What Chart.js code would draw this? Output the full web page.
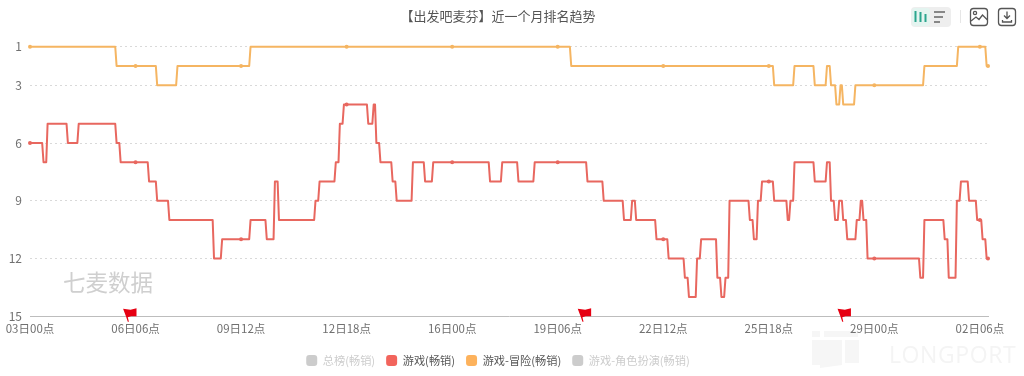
<!DOCTYPE html>
<html>
<head>
<meta charset="utf-8">
<script src="https://cdn.jsdelivr.net/npm/chart.js@4/dist/chart.umd.min.js"></script>
<style>
  html, body { margin: 0; padding: 0; background: #fff; }
  #wrap { position: relative; width: 1024px; height: 376px; overflow: hidden; }
  #rankChart { position: absolute; left: 0; top: 0; }
  .mark { position: absolute; font-family: "Noto Sans CJK SC", sans-serif; white-space: nowrap; }
  #qimai { left: 63px; top: 265px; font-size: 22.5px; line-height: 32px; color: #cfcfcf; }
  #longport { left: 889px; top: 340px; font-family: "Open Sans", sans-serif; font-size: 23px; line-height: 28px; letter-spacing: 0.6px; color: #f4f4f4; }
  svg { position: absolute; left: 0; top: 0; }
</style>
</head>
<body>
<div id="wrap">
  <svg width="1024" height="376">
    <g fill="#f6f6f6">
      <rect x="812" y="331" width="8" height="6"/><rect x="824" y="331" width="34" height="6"/>
      <path d="M812 340h30v25l-22 3v-3h-8z"/><rect x="845" y="340" width="14" height="23"/>
    </g>
  </svg>
  <canvas id="rankChart" width="1024" height="376"></canvas>
  <div class="mark" id="qimai">七麦数据</div>
  <div class="mark" id="longport">LONGPORT</div>
  <svg width="1024" height="376">
    <rect x="911" y="7" width="40" height="20" rx="4" fill="#eeeeee"/>
    <rect x="912" y="8" width="18" height="18" rx="3" fill="#e4f4f0"/>
    <g stroke="#2ba58e" stroke-width="2"><path d="M915.5 11v11M920.5 12v10M925.5 14v8"/></g>
    <g stroke="#666" stroke-width="1.6"><path d="M934 12h11M934 17h9M934 22h6"/></g>
    <path d="M960.5 10v13" stroke="#e6e6e6"/>
    <g fill="none" stroke="#555" stroke-width="1.3">
      <rect x="970.5" y="8.5" width="17" height="17" rx="3"/>
      <circle cx="975" cy="13" r="1.6"/>
      <path d="M971 21l5-4 3 2.5 3.5-4.5 5 5"/>
      <rect x="998.5" y="8.5" width="17" height="17" rx="3"/>
      <path d="M1007 11.5v7M1004 15.5l3 3 3-3M1002.5 20v2h9v-2"/>
    </g>
  </svg>
</div>
<script>
const titleText = '【出发吧麦芬】近一个月排名趋势';
const legendNames = ['总榜(畅销)', '游戏(畅销)', '游戏-冒险(畅销)', '游戏-角色扮演(畅销)'];
const rankTicks = [1, 3, 6, 9, 12, 15];
const tickHours = [0, 78, 156, 234, 312, 390, 468, 546, 624, 702];
const tickLabels = ['03日00点', '06日06点', '09日12点', '12日18点', '16日00点', '19日06点', '22日12点', '25日18点', '29日00点', '02日06点'];
const lastHour = 708;
const flagHours = [72.5, 408.5, 600.5];

// hour each rank starts at, hours counted from 03日00点
const adventureHours = [0, 64, 94, 109, 163, 400, 550, 565, 580, 589, 592, 596, 599, 601, 610, 661, 686, 707];
const adventureRanks = [1, 2, 3, 2, 1, 2, 3, 2, 3, 2, 3, 4, 3, 4, 3, 2, 1, 2];
const gameHours = [
  0, 10, 13, 28, 36, 64, 67, 88, 94, 103, 136, 142, 163, 175, 181, 184, 211, 214, 226, 229,
  232, 250, 254, 256, 259, 268, 271, 283, 292, 298, 340, 349, 361, 373, 412, 424, 439, 445, 448, 463,
  472, 484, 487, 493, 496, 508, 511, 514, 517, 532, 535, 538, 541, 550, 560, 562, 565, 580, 589, 592,
  595, 598, 601, 604, 611, 614, 616, 619, 658, 661, 676, 679, 685, 688, 694, 700, 704, 707
];
const gameRanks = [
  6, 7, 5, 6, 5, 6, 7, 8, 9, 10, 12, 11, 10, 11, 8, 10, 9, 8, 7, 5,
  4, 5, 4, 6, 7, 8, 9, 7, 8, 7, 8, 7, 8, 7, 8, 9, 10, 9, 10, 11,
  12, 13, 14, 12, 11, 13, 14, 13, 9, 10, 11, 9, 8, 9, 10, 9, 7, 8, 7, 9,
  10, 9, 10, 11, 10, 9, 10, 12, 13, 10, 11, 13, 9, 8, 9, 10, 11, 12
];

const colors = { game: '#e8675f', gameLegend: '#f2645c', adventure: '#f5b562', adventureLegend: '#fdb25c', off: '#cccccc', text: '#707070', grid: '#d9d9d9' };

// each rank holds until the hour before the next one, with a dot at the labelled hours
function buildPoints(hours, ranks) {
  const pts = [];
  hours.forEach((start, i) => {
    const end = i + 1 < hours.length ? hours[i + 1] - 1 : lastHour;
    pts.push({ x: start, y: ranks[i] });
    tickHours.filter(h => h > start && h < end).forEach(h => pts.push({ x: h, y: ranks[i] }));
    if (end > start) pts.push({ x: end, y: ranks[i] });
  });
  return pts;
}

function lineSet(label, points, color, legendColor) {
  return {
    label,
    data: points,
    borderColor: color,
    backgroundColor: legendColor,
    pointBackgroundColor: color,
    borderWidth: 2,
    borderJoinStyle: 'round',
    tension: 0,
    clip: false,
    pointBorderWidth: 0,
    pointHoverRadius: 0,
    pointRadius: ctx => (ctx.raw && (tickHours.includes(ctx.raw.x) || ctx.raw.x === lastHour) ? 2 : 0),
  };
}

const flagPlugin = {
  id: 'flags',
  afterDatasetsDraw(chart) {
    const { ctx, scales, chartArea } = chart;
    ctx.save();
    ctx.fillStyle = '#e60012';
    flagHours.forEach(h => {
      const x = scales.x.getPixelForValue(h);
      const y = chartArea.bottom + 5.5;
      ctx.beginPath();
      ctx.moveTo(x - 5, y - 13);
      ctx.lineTo(x + 2.4, y - 12);
      ctx.lineTo(x + 8.4, y - 13.5);
      ctx.lineTo(x + 8.4, y - 5.5);
      ctx.lineTo(x + 3, y - 5.5);
      ctx.lineTo(x - 0.3, y - 4.5);
      ctx.lineTo(x + 0.8, y);
      ctx.lineTo(x - 0.3, y);
      ctx.lineTo(x - 2, y - 5);
      ctx.closePath();
      ctx.fill();
    });
    ctx.restore();
  },
};

// title and legend sit off the plot centre in the original
const shiftPlugin = {
  id: 'shift',
  afterLayout(chart) {
    chart.titleBlock.left += 4;
    chart.titleBlock.right += 4;
    chart.legend.left += 4;
    chart.legend.right += 4;
    chart.legend.adjustHitBoxes();
  },
};

const baseFont = { family: '"Noto Sans CJK SC", sans-serif' };

new Chart(document.getElementById('rankChart'), {
  type: 'line',
  data: {
    datasets: [
      lineSet(legendNames[0], [], colors.off, colors.off),
      lineSet(legendNames[1], buildPoints(gameHours, gameRanks), colors.game, colors.gameLegend),
      lineSet(legendNames[2], buildPoints(adventureHours, adventureRanks), colors.adventure, colors.adventureLegend),
      lineSet(legendNames[3], [], colors.off, colors.off),
    ],
  },
  options: {
    responsive: false,
    animation: false,
    layout: { padding: { left: 0, right: 36, top: 0, bottom: 0 } },
    plugins: {
      tooltip: { enabled: false },
      title: {
        display: true,
        text: titleText,
        color: '#555555',
        font: { ...baseFont, size: 13, weight: 'normal' },
        padding: { top: 8, bottom: 23.2 },
      },
      legend: {
        position: 'bottom',
        labels: {
          boxWidth: 11,
          boxHeight: 11,
          padding: 11,
          useBorderRadius: true,
          borderRadius: 3,
          font: { ...baseFont, size: 11.2 },
          generateLabels(chart) {
            return chart.data.datasets.map((d, i) => ({
              text: d.label,
              datasetIndex: i,
              fillStyle: d.backgroundColor,
              strokeStyle: d.backgroundColor,
              lineWidth: 0,
              fontColor: d.data.length ? '#555555' : '#cccccc',
              borderRadius: 3,
            }));
          },
        },
      },
    },
    scales: {
      x: {
        type: 'linear',
        min: 0,
        max: lastHour,
        afterBuildTicks(axis) { axis.ticks = tickHours.map(value => ({ value })); },
        afterFit(axis) { axis.height = 27.5; },
        grid: { display: false, drawTicks: false },
        border: { display: true, color: '#bdbdbd', width: 1 },
        ticks: {
          autoSkip: false,
          maxRotation: 0,
          padding: 5.5,
          color: colors.text,
          font: { ...baseFont, size: 11.5 },
          callback: (v, i) => tickLabels[i],
        },
      },
      y: {
        type: 'linear',
        reverse: true,
        min: 1,
        max: 15,
        afterBuildTicks(axis) { axis.ticks = rankTicks.map(value => ({ value })); },
        afterFit(axis) { axis.width = 30; },
        border: { display: false, dash: [2, 3] },
        grid: {
          drawTicks: false,
          color: ctx => (ctx.tick && ctx.tick.value === 15 ? 'transparent' : colors.grid),
        },
        ticks: {
          padding: 8,
          color: colors.text,
          font: { ...baseFont, size: 12 },
          callback: (v, i) => String(rankTicks[i]),
        },
      },
    },
  },
  plugins: [flagPlugin, shiftPlugin],
});
</script>
</body>
</html>
